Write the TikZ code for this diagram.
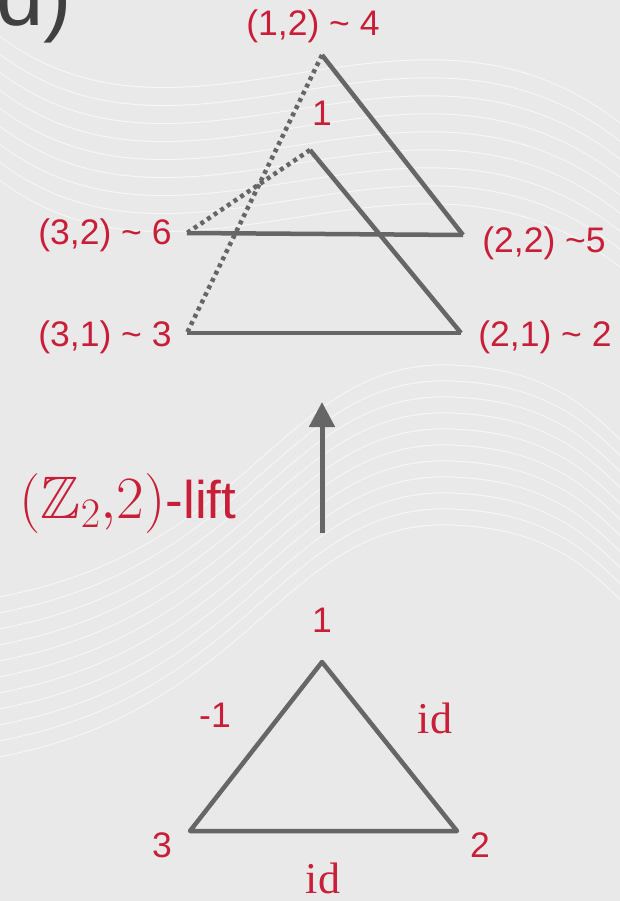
\RequirePackage{fix-cm}
\documentclass[tikz,border=0pt]{standalone}
\usepackage{amssymb}
\usepackage{fontspec}
\setmainfont{Liberation Sans}
\newfontfamily\serifid{Liberation Serif}
\usepackage{tikz}
\usetikzlibrary{
arrows.meta,
positioning
}

\definecolor{slidebg}{RGB}{233,233,233}
\definecolor{labelred}{RGB}{200,30,55}
\definecolor{edgegray}{RGB}{102,102,102}
\definecolor{titlegray}{RGB}{64,64,64}

\begin{document}
\begin{tikzpicture}[
x=1pt,y=-1pt,
lbl/.style={
text=labelred,
inner sep=0pt,
font=\fontsize{35.5}{40}\selectfont
},
idlbl/.style={
text=labelred,
inner sep=0pt,
font=\serifid\fontsize{44}{50}\selectfont
},
edge/.style={draw=edgegray,line width=4.5pt},
crossed/.style={edge,dash pattern=on 4pt off 4pt},
wave/.style={white,opacity=0.6,line width=1pt},
arrow/.style={-{Triangle[width=25pt,length=25pt]},draw=edgegray,fill=edgegray,line width=5pt}
]

\useasboundingbox (0,0) rectangle (620,901);
\fill[slidebg] (0,0) rectangle (620,901);
\clip (0,0) rectangle (620,901);

% background
\foreach \k in {0,...,8}
  \draw[wave] (-20,{20+18*\k}) .. controls (180,{200+18*\k}) and (420,{-60+18*\k}) .. (640,{140+18*\k});
\foreach \k in {0,...,10}
  \draw[wave] (-20,{600+16*\k}) .. controls (250,{560+16*\k}) and (280,{360+16*\k}) .. (450,{365+16*\k})
    .. controls (560,{368+16*\k}) and (600,{420+16*\k}) .. (640,{460+16*\k});

\node[text=titlegray,anchor=base west,inner sep=0pt,font=\fontsize{85}{90}\selectfont] (title) at (-4,26) {d)};

% lifted graph
\coordinate (v4) at (322,55);
\coordinate (v1) at (310,150);
\coordinate (v6) at (187,233);
\coordinate (v5) at (463,235);
\coordinate (v3) at (187,333);
\coordinate (v2) at (461,333);

\draw[edge] (v4) -- (v5);
\draw[edge] (v6) -- (v5);
\draw[edge] (v1) -- (v2);
\draw[edge] (v3) -- (v2);
\draw[crossed] (v4) -- (v3);
\draw[crossed] (v1) -- (v6);

\node[lbl] (l4) at (313,26) {(1,2) \textasciitilde\ 4};
\node[lbl] (l1) at (322,113) {1};
\node[lbl] (l6) at (105,235) {(3,2) \textasciitilde\ 6};
\node[lbl] (l5) at (544,243) {(2,2) \textasciitilde5};
\node[lbl] (l3) at (105,337) {(3,1) \textasciitilde\ 3};
\node[lbl] (l2) at (545,337) {(2,1) \textasciitilde\ 2};

% lift
\coordinate (liftfrom) at (322,533);
\coordinate (liftto) at (322,402);
\draw[arrow] (liftfrom) -- (liftto);
\node[text=labelred,inner sep=0pt] (liftlbl) at (128,503)
  {\fontsize{60}{66}\selectfont$(\mathbb{Z}_2{,}2)$\fontsize{53}{60}\selectfont-lift};

% base graph
\coordinate (b1) at (322,662);
\coordinate (b2) at (457,831);
\coordinate (b3) at (190,831);
\draw[edge,line join=round] (b1) -- (b2) -- (b3) -- cycle;

\node[lbl] (n1) at (322,620) {1};
\node[lbl] (n2) at (480,845) {2};
\node[lbl] (n3) at (162,845) {3};
\node[lbl] (e13) at (215,715) {-1};
\node[idlbl] (e12) at (435,718) {id};
\node[idlbl] (e23) at (323,878) {id};

\end{tikzpicture}
\end{document}
